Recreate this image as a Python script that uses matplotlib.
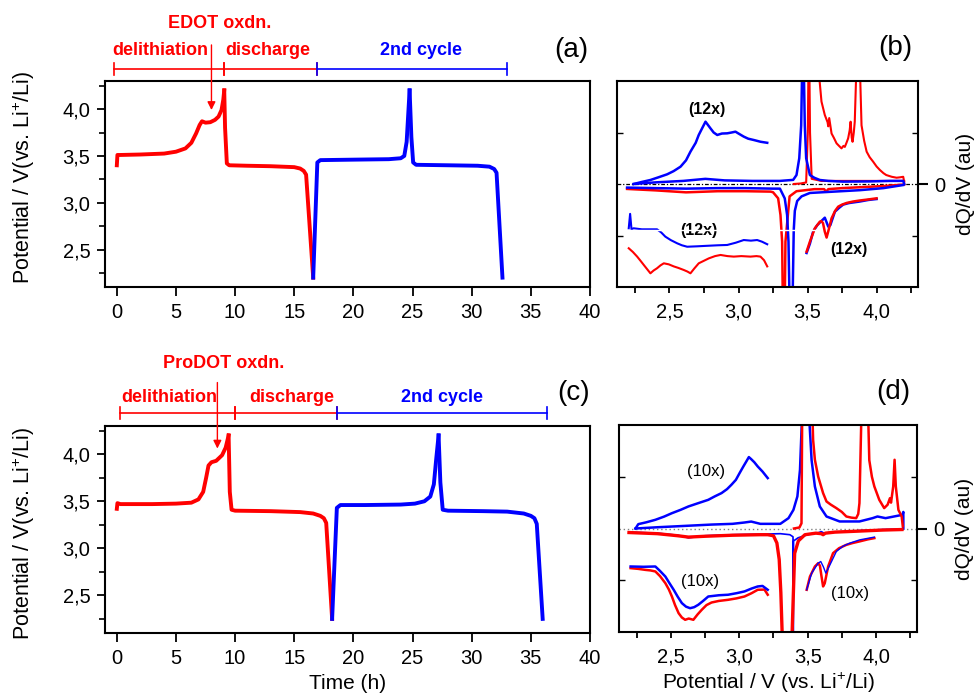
import matplotlib
matplotlib.use("Agg")
import matplotlib.pyplot as plt
from matplotlib.ticker import FuncFormatter, FixedLocator
from matplotlib.transforms import blended_transform_factory

plt.rcParams['font.family'] = ['Liberation Sans', 'DejaVu Sans']
plt.rcParams['font.size'] = 14
plt.rcParams['mathtext.fontset'] = 'custom'
plt.rcParams['mathtext.rm'] = 'Liberation Sans'
plt.rcParams['mathtext.it'] = 'Liberation Sans:italic'
plt.rcParams['mathtext.bf'] = 'Liberation Sans:bold'

RED = '#ff0000'
BLUE = '#0000ff'

# ---------------- Panel (a): EDOT galvanostatic curve ----------------
a_ch1_t = [0, 0.05, 0.3, 2, 4, 5, 5.8, 6.3, 6.7, 7.0, 7.2, 7.5, 7.9, 8.3, 8.6, 8.85, 9.0, 9.08]
a_ch1_v = [3.40, 3.51, 3.51, 3.515, 3.525, 3.545, 3.58, 3.64, 3.74, 3.83, 3.87, 3.855, 3.86, 3.885, 3.92, 3.99, 4.10, 4.20]
a_dis1_t = [9.08, 9.15, 9.3, 9.5, 11, 13, 15, 15.5, 15.8, 16.0, 16.6]
a_dis1_v = [4.20, 3.8, 3.42, 3.40, 3.395, 3.39, 3.38, 3.365, 3.34, 3.30, 2.20]
a_ch2_t = [16.6, 16.95, 17.2, 20, 23, 24.0, 24.3, 24.5, 24.75]
a_ch2_v = [2.20, 3.43, 3.455, 3.46, 3.465, 3.475, 3.50, 3.65, 4.20]
a_dis2_t = [24.75, 24.9, 25.05, 25.3, 28, 30.5, 31.5, 31.9, 32.1, 32.6]
a_dis2_v = [4.20, 3.7, 3.43, 3.405, 3.40, 3.395, 3.385, 3.36, 3.32, 2.20]
a_phase_bounds = [-0.2, 9.1, 16.9, 33.0]
a_phase_labels = ['delithiation', 'discharge', '2nd cycle']
a_phase_label_t = [3.7, 12.8, 25.7]
a_phase_colors = [RED, RED, BLUE]
a_oxdn_label = 'EDOT oxdn.'
a_oxdn_t = 8.0
a_oxdn_v = 3.99
a_oxdn_text_t = 8.7

# ---------------- Panel (c): ProDOT galvanostatic curve ----------------
c_ch1_t = [0, 0.05, 0.3, 3, 5, 6.3, 6.9, 7.3, 7.55, 7.75, 8.0, 8.4, 8.9, 9.2, 9.45]
c_ch1_v = [3.42, 3.48, 3.47, 3.47, 3.475, 3.485, 3.52, 3.60, 3.75, 3.88, 3.915, 3.93, 3.99, 4.07, 4.20]
c_dis1_t = [9.45, 9.55, 9.7, 10, 13, 15.5, 16.6, 17.2, 17.5, 17.7, 18.2]
c_dis1_v = [4.20, 3.6, 3.41, 3.40, 3.395, 3.385, 3.37, 3.345, 3.32, 3.27, 2.25]
c_ch2_t = [18.2, 18.6, 18.9, 21, 24, 25.2, 26.0, 26.5, 26.8, 27.0, 27.2]
c_ch2_v = [2.25, 3.43, 3.46, 3.46, 3.465, 3.475, 3.50, 3.55, 3.68, 3.95, 4.20]
c_dis2_t = [27.2, 27.35, 27.55, 28, 31, 33, 34.4, 35.0, 35.3, 35.5, 36.0]
c_dis2_v = [4.20, 3.7, 3.41, 3.40, 3.395, 3.39, 3.37, 3.345, 3.32, 3.26, 2.25]
c_phase_bounds = [0.3, 10.0, 18.6, 36.4]
c_phase_labels = ['delithiation', 'discharge', '2nd cycle']
c_phase_label_t = [4.4, 14.8, 27.5]
c_phase_colors = [RED, RED, BLUE]
c_oxdn_label = 'ProDOT oxdn.'
c_oxdn_t = 8.5
c_oxdn_v = 4.06
c_oxdn_text_t = 9.0

# ---------------- Panel (b): EDOT dQ/dV ----------------
b_bc12_v = [2.241, 2.30, 2.362, 2.42, 2.483, 2.53, 2.58, 2.62, 2.652, 2.69, 2.712, 2.74, 2.761, 2.775,
            2.797, 2.82, 2.846, 2.88, 2.918, 2.95, 2.978, 3.00, 3.038, 3.07, 3.111, 3.16, 3.208]
b_bc12_y = [0.0, 0.02, 0.039, 0.065, 0.094, 0.125, 0.168, 0.23, 0.314, 0.40, 0.476, 0.55, 0.605, 0.58,
            0.54, 0.50, 0.476, 0.49, 0.492, 0.50, 0.508, 0.49, 0.46, 0.44, 0.427, 0.41, 0.40]
b_bc_v = [2.241, 2.40, 2.60, 2.76, 2.90, 3.10, 3.30, 3.396, 3.42, 3.44, 3.454, 3.467, 3.48, 3.49,
          3.517, 3.55, 3.589, 3.65, 3.758, 3.95, 4.10, 4.193, 4.20]
b_bc_y = [0.0, 0.016, 0.03, 0.05, 0.035, 0.03, 0.03, 0.04, 0.087, 0.25, 0.57, 1.6, 0.57, 0.25,
          0.087, 0.06, 0.039, 0.03, 0.023, 0.025, 0.03, 0.03, 0.0]
b_rc_v = [3.40, 3.45, 3.49, 3.502, 3.51, 3.518, 3.53, 3.60, 3.80, 4.0, 4.2]
b_rc_y = [0.0, 0.005, 0.015, 0.5, 1.6, 0.5, 0.05, 0.03, 0.03, 0.03, 0.03]
b_rc12_v = [3.584, 3.601, 3.625, 3.645, 3.65, 3.657, 3.674, 3.69, 3.71, 3.728, 3.746, 3.76, 3.77, 3.782,
            3.794, 3.805, 3.812, 3.82, 3.826, 3.835, 3.842, 3.852, 3.866, 3.881, 3.891, 3.91, 3.928,
            3.95, 3.975, 4.0, 4.024, 4.05, 4.07, 4.11, 4.145, 4.17, 4.193, 4.20]
b_rc12_y = [1.05, 0.80, 0.67, 0.60, 0.56, 0.64, 0.49, 0.45, 0.395, 0.37, 0.346, 0.37, 0.36, 0.40,
            0.443, 0.52, 0.605, 0.45, 0.41, 0.50, 0.605, 1.05, 1.6, 1.05, 0.57, 0.42, 0.314,
            0.26, 0.217, 0.17, 0.136, 0.105, 0.087, 0.07, 0.061, 0.065, 0.07, 0.02]
b_rd_v = [2.193, 2.40, 2.62, 2.85, 3.05, 3.232, 3.25, 3.287, 3.304, 3.316, 3.328, 3.34, 3.37, 3.42,
          3.55, 3.62, 3.635, 3.65, 3.75, 3.90, 4.05, 4.20]
b_rd_y = [-0.048, -0.062, -0.081, -0.07, -0.07, -0.074, -0.08, -0.139, -0.30, -0.56, -2.0, -0.56, -0.12,
          -0.07, -0.05, -0.05, -0.075, -0.05, -0.04, -0.03, -0.02, -0.005]
b_bd_v = [2.193, 2.40, 2.62, 2.85, 3.05, 3.25, 3.30, 3.335, 3.352, 3.362, 3.381, 3.40, 3.408, 3.425,
          3.457, 3.517, 3.638, 3.879, 4.05, 4.193]
b_bd_y = [-0.035, -0.04, -0.045, -0.04, -0.04, -0.045, -0.045, -0.14, -0.30, -0.56, -2.0, -0.45, -0.26,
          -0.165, -0.12, -0.087, -0.078, -0.06, -0.04, -0.01]
b_rd12_v = [2.205, 2.235, 2.266, 2.29, 2.314, 2.34, 2.362, 2.385, 2.41, 2.435, 2.459, 2.495, 2.531, 2.565,
            2.604, 2.63, 2.652, 2.68, 2.712, 2.75, 2.785, 2.83, 2.87, 2.92, 2.966, 3.02, 3.087, 3.13,
            3.159, 3.185, 3.208]
b_rd12_y = [-0.624, -0.66, -0.705, -0.745, -0.786, -0.83, -0.867, -0.84, -0.818, -0.79, -0.770, -0.78,
            -0.80, -0.815, -0.835, -0.85, -0.867, -0.82, -0.77, -0.745, -0.722, -0.70, -0.689, -0.70,
            -0.705, -0.70, -0.705, -0.70, -0.705, -0.74, -0.80]
b_bd12_v = [2.205, 2.215, 2.225, 2.24, 2.30, 2.41, 2.44, 2.47, 2.51, 2.556, 2.59, 2.628, 2.70, 2.773,
            2.85, 2.918, 2.98, 3.038, 3.09, 3.135, 3.17, 3.208]
b_bd12_y = [-0.43, -0.29, -0.44, -0.43, -0.44, -0.44, -0.47, -0.511, -0.545, -0.576, -0.595, -0.609,
            -0.605, -0.60, -0.595, -0.592, -0.57, -0.544, -0.55, -0.544, -0.56, -0.585]
b_rdh_v = [3.493, 3.517, 3.553, 3.589, 3.60, 3.612, 3.625, 3.638, 3.65, 3.674, 3.70, 3.722, 3.75, 3.783,
           3.83, 3.879, 3.94, 4.0]
b_rdh_y = [-0.657, -0.56, -0.43, -0.366, -0.36, -0.38, -0.463, -0.52, -0.46, -0.333, -0.26, -0.22, -0.20,
           -0.184, -0.17, -0.16, -0.15, -0.139]
b_bdh_v = [3.493, 3.517, 3.541, 3.57, 3.60, 3.625, 3.65, 3.665, 3.698, 3.73, 3.758, 3.80, 3.879, 3.94, 4.0]
b_bdh_y = [-0.67, -0.58, -0.46, -0.40, -0.36, -0.327, -0.414, -0.40, -0.269, -0.23, -0.20, -0.185, -0.17,
           -0.155, -0.146]
b_white_v = [2.2, 3.56]
b_white_y = [-0.45, -0.45]
b_labels = ['(12x)', '(12x)', '(12x)']
b_label_v = [2.77, 2.71, 3.80]
b_label_y = [0.72, -0.45, -0.64]

# ---------------- Panel (d): ProDOT dQ/dV ----------------
d_bc10_v = [2.241, 2.261, 2.32, 2.386, 2.45, 2.507, 2.57, 2.628, 2.70, 2.773, 2.82, 2.87, 2.91, 2.942,
            2.975, 3.002, 3.03, 3.051, 3.07, 3.087, 3.11, 3.135, 3.17, 3.208]
d_bc10_y = [0.0, 0.042, 0.06, 0.084, 0.115, 0.148, 0.18, 0.213, 0.245, 0.277, 0.31, 0.342, 0.38, 0.422,
            0.47, 0.535, 0.60, 0.647, 0.69, 0.67, 0.64, 0.599, 0.55, 0.487]
d_bc_v = [2.241, 2.40, 2.60, 2.797, 2.95, 3.038, 3.087, 3.154, 3.30, 3.36, 3.396, 3.425, 3.444, 3.48,
          3.529, 3.553, 3.589, 3.638, 3.734, 3.879, 3.975, 4.011, 4.07, 4.193, 4.20, 4.20]
d_bc_y = [0.0, 0.012, 0.025, 0.038, 0.045, 0.058, 0.067, 0.045, 0.045, 0.1, 0.18, 0.31, 0.567, 1.8,
          0.66, 0.406, 0.213, 0.116, 0.068, 0.068, 0.1, 0.116, 0.1, 0.132, 0.16, 0.0]
d_rc_v = [3.40, 3.44, 3.455, 3.462, 3.53, 3.536, 3.54, 3.553, 3.577, 3.613, 3.638, 3.67, 3.71, 3.75,
          3.783, 3.82, 3.855, 3.87, 3.879, 3.90, 3.935, 3.951, 3.97, 3.988, 4.024, 4.06, 4.085, 4.102,
          4.11, 4.126, 4.136, 4.145, 4.164, 4.188, 4.196]
d_rc_y = [0.0, 0.01, 0.05, 1.5, 1.5, 1.05, 0.857, 0.664, 0.502, 0.342, 0.261, 0.23, 0.197, 0.16,
          0.116, 0.105, 0.1, 0.14, 0.245, 1.5, 1.5, 0.66, 0.5, 0.406, 0.277, 0.197, 0.23, 0.293,
          0.25, 0.406, 0.664, 0.406, 0.18, 0.116, 0.02]
d_rd_v = [2.193, 2.40, 2.55, 2.628, 2.75, 2.95, 3.15, 3.208, 3.25, 3.275, 3.292, 3.304, 3.35, 3.405,
          3.432, 3.48, 3.56, 3.60, 3.613, 3.63, 3.70, 3.879, 4.05, 4.19]
d_rd_y = [-0.039, -0.05, -0.07, -0.083, -0.075, -0.065, -0.06, -0.06, -0.07, -0.14, -0.30, -0.62, -2.5,
          -0.24, -0.12, -0.06, -0.045, -0.05, -0.06, -0.045, -0.035, -0.025, -0.015, -0.01]
d_bd_v = [2.193, 2.40, 2.55, 2.628, 2.75, 2.95, 3.15, 3.30, 3.37, 3.393, 3.395, 3.397, 3.43, 3.50,
          3.58, 3.60, 3.62, 3.70, 3.879, 4.05, 4.19]
d_bd_y = [-0.035, -0.045, -0.065, -0.09, -0.07, -0.06, -0.055, -0.05, -0.06, -0.08, -1.5, -0.12, -0.09,
          -0.06, -0.04, -0.03, -0.045, -0.035, -0.02, -0.01, -0.005]
d_rd10_v = [2.205, 2.26, 2.314, 2.35, 2.386, 2.42, 2.459, 2.485, 2.507, 2.53, 2.556, 2.58, 2.604, 2.63,
            2.664, 2.695, 2.725, 2.76, 2.797, 2.85, 2.918, 2.98, 3.038, 3.09, 3.135, 3.184, 3.208]
d_rd10_y = [-0.383, -0.39, -0.40, -0.405, -0.415, -0.46, -0.528, -0.59, -0.657, -0.74, -0.818, -0.86,
            -0.882, -0.87, -0.882, -0.83, -0.786, -0.74, -0.715, -0.70, -0.689, -0.675, -0.657, -0.625,
            -0.592, -0.59, -0.64]
d_bd10_v = [2.205, 2.30, 2.386, 2.42, 2.459, 2.49, 2.52, 2.55, 2.58, 2.61, 2.64, 2.67, 2.70, 2.735,
            2.773, 2.85, 2.918, 2.98, 3.038, 3.09, 3.135, 3.17, 3.208]
d_bd10_y = [-0.367, -0.37, -0.367, -0.41, -0.464, -0.53, -0.592, -0.66, -0.721, -0.755, -0.77, -0.76,
            -0.737, -0.70, -0.657, -0.645, -0.64, -0.625, -0.608, -0.58, -0.56, -0.555, -0.592]
d_rdh_v = [3.493, 3.517, 3.553, 3.577, 3.59, 3.60, 3.613, 3.625, 3.65, 3.686, 3.73, 3.783, 3.83, 3.879,
           3.94, 3.988]
d_rdh_y = [-0.592, -0.464, -0.367, -0.335, -0.36, -0.45, -0.56, -0.53, -0.367, -0.238, -0.19, -0.158,
           -0.14, -0.125, -0.105, -0.093]
d_bdh_v = [3.493, 3.53, 3.577, 3.596, 3.615, 3.633, 3.645, 3.66, 3.71, 3.76, 3.807, 3.88, 3.988]
d_bdh_y = [-0.592, -0.43, -0.335, -0.319, -0.37, -0.431, -0.40, -0.36, -0.222, -0.17, -0.142, -0.11, -0.083]
d_labels = ['(10x)', '(10x)', '(10x)']
d_label_v = [2.76, 2.71, 3.81]
d_label_y = [0.55, -0.51, -0.625]

# ---------------- figure ----------------
W, H = 978, 697
fig = plt.figure(figsize=(W / 100, H / 100), dpi=100)


def rect(l, r, t, b):
    return [l / W, (H - b) / H, (r - l) / W, (b - t) / H]


ax_a = fig.add_axes(rect(105, 590, 81, 287))
ax_b = fig.add_axes(rect(617, 918, 81, 287))
ax_c = fig.add_axes(rect(105, 590, 426, 633))
ax_d = fig.add_axes(rect(619, 917, 425, 632))

comma1 = FuncFormatter(lambda v, p: f"{v:.1f}".replace('.', ','))
intfmt = FuncFormatter(lambda v, p: f"{v:.0f}")


def style_galv(ax, ylab_y):
    ax.set_xlim(-1, 40)
    ax.set_ylim(2.1, 4.3)
    ax.xaxis.set_major_locator(FixedLocator(list(range(0, 41, 5))))
    ax.yaxis.set_major_locator(FixedLocator([2.5, 3.0, 3.5, 4.0]))
    ax.yaxis.set_minor_locator(FixedLocator([2.25, 2.75, 3.25, 3.75, 4.25]))
    ax.xaxis.set_major_formatter(intfmt)
    ax.yaxis.set_major_formatter(comma1)
    ax.tick_params(axis='x', which='major', direction='out', length=6.5, width=1.3, labelsize=14.5, pad=5)
    ax.tick_params(axis='y', which='major', direction='out', length=5.5, width=1.3, labelsize=14.5, pad=5)
    ax.tick_params(axis='y', which='minor', direction='out', length=4.5, width=1.2)
    for s in ax.spines.values():
        s.set_linewidth(1.5)
    ax.set_ylabel('Potential / V(vs. Li$^{+}$/Li)', fontsize=15.5)
    ax.yaxis.set_label_coords(-0.14, ylab_y)


def draw_phases(ax, bounds, labels, label_t, colors, ybar, ylab):
    tr = blended_transform_factory(ax.transData, ax.transAxes)
    for i in range(len(labels)):
        x0, x1 = bounds[i], bounds[i + 1]
        ax.plot([x0, x1], [ybar, ybar], color=colors[i], lw=1.2, transform=tr, clip_on=False)
        for x in (x0, x1):
            ax.plot([x, x], [ybar - 0.03, ybar + 0.03], color=colors[i], lw=1.2, transform=tr,
                    clip_on=False)
        ax.text(label_t[i], ylab, labels[i], color=colors[i], transform=tr, ha='center', va='center',
                fontsize=13, fontweight='bold')


def draw_oxdn(ax, label, t, v, ytext, ystart, xtext):
    tr = blended_transform_factory(ax.transData, ax.transAxes)
    ax.annotate('', xy=(t, v), xycoords='data', xytext=(t, ystart), textcoords=tr,
                arrowprops=dict(arrowstyle='-|>', color=RED, lw=1.0, mutation_scale=12,
                                shrinkA=0, shrinkB=0), annotation_clip=False)
    ax.text(xtext, ytext, label, color=RED, transform=tr, ha='center', va='center',
            fontsize=13, fontweight='bold')


# (a)
style_galv(ax_a, 0.53)
for t, v, c in [(a_ch1_t, a_ch1_v, RED), (a_dis1_t, a_dis1_v, RED),
                (a_ch2_t, a_ch2_v, BLUE), (a_dis2_t, a_dis2_v, BLUE)]:
    ax_a.plot(t, v, color=c, lw=2.8, solid_joinstyle='round')
draw_phases(ax_a, a_phase_bounds, a_phase_labels, a_phase_label_t, a_phase_colors, 1.058, 1.15)
draw_oxdn(ax_a, a_oxdn_label, a_oxdn_t, a_oxdn_v, 1.28, 1.175, a_oxdn_text_t)

# (c)
style_galv(ax_c, 0.48)
for t, v, c in [(c_ch1_t, c_ch1_v, RED), (c_dis1_t, c_dis1_v, RED),
                (c_ch2_t, c_ch2_v, BLUE), (c_dis2_t, c_dis2_v, BLUE)]:
    ax_c.plot(t, v, color=c, lw=2.8, solid_joinstyle='round')
draw_phases(ax_c, c_phase_bounds, c_phase_labels, c_phase_label_t, c_phase_colors, 1.063, 1.14)
draw_oxdn(ax_c, c_oxdn_label, c_oxdn_t, c_oxdn_v, 1.30, 1.21, c_oxdn_text_t)
ax_c.set_xlabel('Time (h)', fontsize=15, labelpad=4)


def style_dq(ax):
    ax.set_xlim(2.12, 4.3)
    ax.set_ylim(-1, 1)
    ax.xaxis.set_major_locator(FixedLocator([2.5, 3.0, 3.5, 4.0]))
    ax.xaxis.set_minor_locator(FixedLocator([2.25, 2.75, 3.25, 3.75, 4.25]))
    ax.xaxis.set_major_formatter(comma1)
    ax.tick_params(axis='x', which='major', direction='out', length=4.5, width=1.3, labelsize=14.5, pad=7)
    ax.tick_params(axis='x', which='minor', direction='out', length=4.5, width=1.3)
    ax.yaxis.set_major_locator(FixedLocator([0]))
    ax.yaxis.set_minor_locator(FixedLocator([-0.5, 0.5]))
    ax.yaxis.set_major_formatter(FuncFormatter(lambda v, p: '0'))
    ax.yaxis.tick_right()
    ax.tick_params(axis='y', which='major', direction='out', length=7, width=1.5, labelsize=14.5,
                   left=False, right=True, labelleft=False, labelright=True, pad=5)
    ax.tick_params(axis='y', which='minor', direction='in', length=4, width=1.0, left=True, right=True)
    ax.yaxis.set_label_position('right')
    ax.set_ylabel('dQ/dV (au)', fontsize=15, labelpad=7)
    for s in ax.spines.values():
        s.set_linewidth(1.5)


# (b)
style_dq(ax_b)
ax_b.axhline(0, color='black', lw=0.9, ls=(0, (3, 1.5, 1, 1.5)), zorder=1)
for v, y, c, lw in [(b_rd_v, b_rd_y, RED, 1.8), (b_bd_v, b_bd_y, BLUE, 1.8),
                    (b_rc_v, b_rc_y, RED, 1.5), (b_rc12_v, b_rc12_y, RED, 1.5),
                    (b_bc_v, b_bc_y, BLUE, 1.8), (b_bc12_v, b_bc12_y, BLUE, 1.8),
                    (b_rd12_v, b_rd12_y, RED, 1.5), (b_bd12_v, b_bd12_y, BLUE, 1.5),
                    (b_bdh_v, b_bdh_y, BLUE, 1.8), (b_rdh_v, b_rdh_y, RED, 1.8)]:
    ax_b.plot(v, y, color=c, lw=lw, zorder=2)
ax_b.plot(b_white_v, b_white_y, color='white', lw=1.0, zorder=4)
for s, v, y in zip(b_labels, b_label_v, b_label_y):
    ax_b.text(v, y, s, ha='center', va='center', fontsize=11.5, fontweight='bold', zorder=3)

# (d)
style_dq(ax_d)
ax_d.axhline(0, color='#808080', lw=1.0, ls=(0, (1, 2)), zorder=1)
for v, y, c, lw in [(d_bc10_v, d_bc10_y, BLUE, 1.8), (d_bc_v, d_bc_y, BLUE, 1.8),
                    (d_rc_v, d_rc_y, RED, 1.8),
                    (d_bd_v, d_bd_y, BLUE, 1.2), (d_rd_v, d_rd_y, RED, 2.4),
                    (d_rd10_v, d_rd10_y, RED, 1.8), (d_bd10_v, d_bd10_y, BLUE, 1.8),
                    (d_rdh_v, d_rdh_y, RED, 1.8), (d_bdh_v, d_bdh_y, BLUE, 1.0)]:
    ax_d.plot(v, y, color=c, lw=lw, zorder=2)
for s, v, y in zip(d_labels, d_label_v, d_label_y):
    ax_d.text(v, y, s, ha='center', va='center', fontsize=12, zorder=3)
ax_d.set_xlabel('Potential / V (vs. Li$^{+}$/Li)', fontsize=15, labelpad=3)

# panel letters
for s, x, y in [('(a)', 571, 50), ('(b)', 895, 48), ('(c)', 574, 393), ('(d)', 893, 392)]:
    fig.text(x / W, 1 - y / H, s, ha='center', va='center', fontsize=20)

fig.savefig('out.png', dpi=100)
